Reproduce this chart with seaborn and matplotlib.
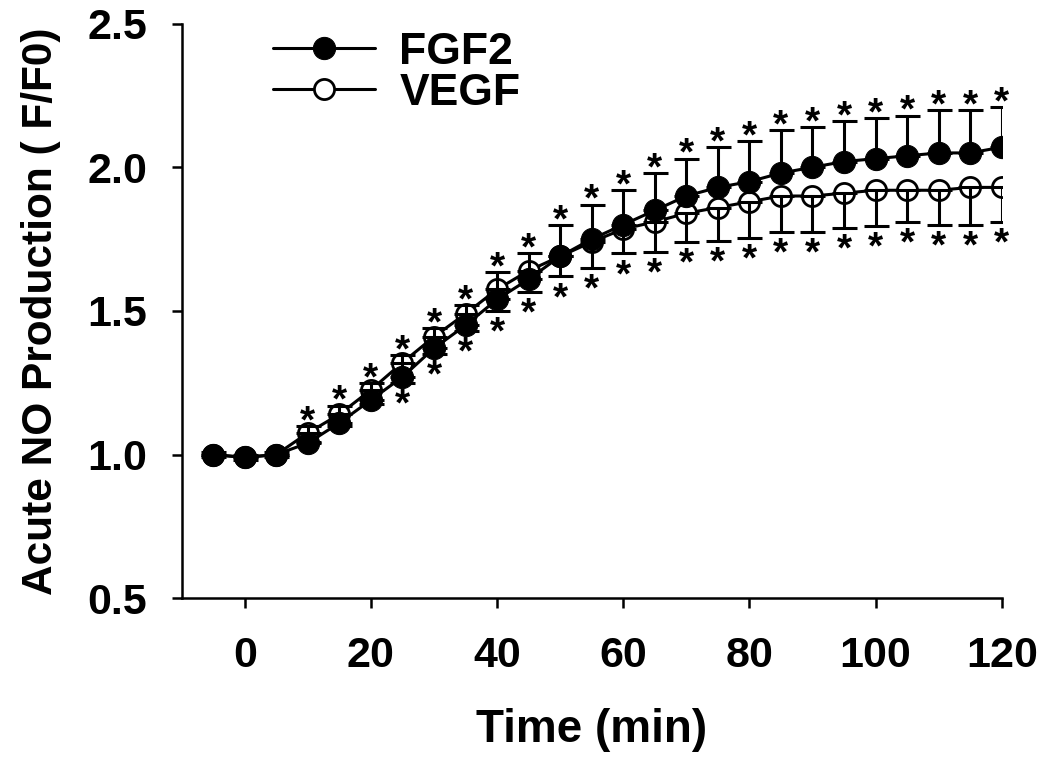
import matplotlib
matplotlib.use("Agg")
import matplotlib.pyplot as plt
import seaborn as sns
import pandas as pd

# time points (min)
time = [-5, 0, 5, 10, 15, 20, 25, 30, 35, 40, 45, 50, 55, 60,
        65, 70, 75, 80, 85, 90, 95, 100, 105, 110, 115, 120]

# FGF2 (filled circles), upper error only
fgf2 = [1.00, 0.99, 1.00, 1.04, 1.11, 1.19, 1.27, 1.37, 1.45, 1.54, 1.61, 1.69, 1.75,
        1.80, 1.85, 1.90, 1.93, 1.95, 1.98, 2.00, 2.02, 2.03, 2.04, 2.05, 2.05, 2.07]
fgf2_err = [0.01, 0.01, 0.01, 0.06, 0.06, 0.06, 0.075, 0.07, 0.07, 0.095, 0.09, 0.11, 0.12,
            0.12, 0.13, 0.13, 0.14, 0.14, 0.15, 0.14, 0.14, 0.14, 0.14, 0.15, 0.15, 0.14]

# VEGF (open circles), lower error only
vegf = [1.00, 0.99, 1.00, 1.075, 1.14, 1.225, 1.32, 1.41, 1.49, 1.575, 1.64, 1.69, 1.74,
        1.785, 1.81, 1.84, 1.86, 1.88, 1.90, 1.90, 1.91, 1.92, 1.92, 1.92, 1.93, 1.93]
vegf_err = [0.01, 0.01, 0.01, 0.03, 0.04, 0.05, 0.07, 0.06, 0.06, 0.075, 0.075, 0.07, 0.09,
            0.085, 0.105, 0.10, 0.115, 0.125, 0.125, 0.125, 0.12, 0.125, 0.11, 0.12, 0.13, 0.12]

# significance markers start at these times
star_up_from = 10
star_down_from = 25

xticks = [0, 20, 40, 60, 80, 100, 120]
yticks = [0.5, 1.0, 1.5, 2.0, 2.5]

df = pd.DataFrame({"time": time, "fgf2": fgf2, "fgf2_err": fgf2_err,
                   "vegf": vegf, "vegf_err": vegf_err})

sns.set_style("ticks")
plt.rcParams['font.family'] = ['Liberation Sans', 'DejaVu Sans']
plt.rcParams['font.weight'] = 'bold'
for k in ["text.color", "axes.labelcolor", "xtick.color", "ytick.color", "axes.edgecolor"]:
    plt.rcParams[k] = "black"

fig = plt.figure(figsize=(10.5, 7.63), dpi=100)
ax = fig.add_axes([0.173, 0.216, 0.781, 0.753])

# VEGF underneath
sns.lineplot(data=df, x="time", y="vegf", ax=ax, color="black", lw=2.2,
             marker="o", markersize=14.5, markerfacecolor="white",
             markeredgecolor="black", markeredgewidth=2.0, label="VEGF", zorder=2)
ax.errorbar(df["time"], df["vegf"], yerr=[df["vegf_err"], [0] * len(df)],
            fmt="none", ecolor="black", elinewidth=2.2, capsize=9, capthick=2.2, zorder=3)

sns.lineplot(data=df, x="time", y="fgf2", ax=ax, color="black", lw=2.2,
             marker="o", markersize=16, markerfacecolor="black",
             markeredgecolor="black", label="FGF2", zorder=4)
ax.errorbar(df["time"], df["fgf2"], yerr=[[0] * len(df), df["fgf2_err"]],
            fmt="none", ecolor="black", elinewidth=2.2, capsize=9, capthick=2.2, zorder=5)

# asterisks
for t, m, e in zip(time, fgf2, fgf2_err):
    if t >= star_up_from:
        ax.annotate("*", (t, m + e), xytext=(0, -4.5), textcoords="offset points",
                    ha="center", va="baseline", fontsize=28, fontweight="bold")
for t, m, e in zip(time, vegf, vegf_err):
    if t >= star_down_from:
        ax.annotate("*", (t, m - e), xytext=(0, -23.5), textcoords="offset points",
                    ha="center", va="baseline", fontsize=28, fontweight="bold")

ax.set_xlim(-10, 120)
ax.set_ylim(0.5, 2.5)
ax.set_xticks(xticks)
ax.set_yticks(yticks)
ax.set_yticklabels([f"{v:.1f}" for v in yticks])
ax.tick_params(axis="both", direction="out", length=7, width=1.8, labelsize=31)
ax.tick_params(axis="x", pad=20)
ax.tick_params(axis="y", pad=18)
for s in ["top", "right"]:
    ax.spines[s].set_visible(False)
for s in ["left", "bottom"]:
    ax.spines[s].set_linewidth(1.8)

ax.set_xlabel("Time (min)", fontsize=33, fontweight="bold", labelpad=23)
ax.set_ylabel("Acute NO Production ( F/F0)", fontsize=30.5, fontweight="bold", labelpad=19)

h, l = ax.get_legend_handles_labels()
order = [l.index("FGF2"), l.index("VEGF")]
ax.legend([h[i] for i in order], [l[i] for i in order], loc="upper left",
          bbox_to_anchor=(0.111, 0.986), frameon=False, borderpad=0,
          borderaxespad=0, handlelength=2.3, handletextpad=0.55, labelspacing=0.0,
          prop={"weight": "bold", "size": 32})

fig.savefig("out.png", dpi=100)
